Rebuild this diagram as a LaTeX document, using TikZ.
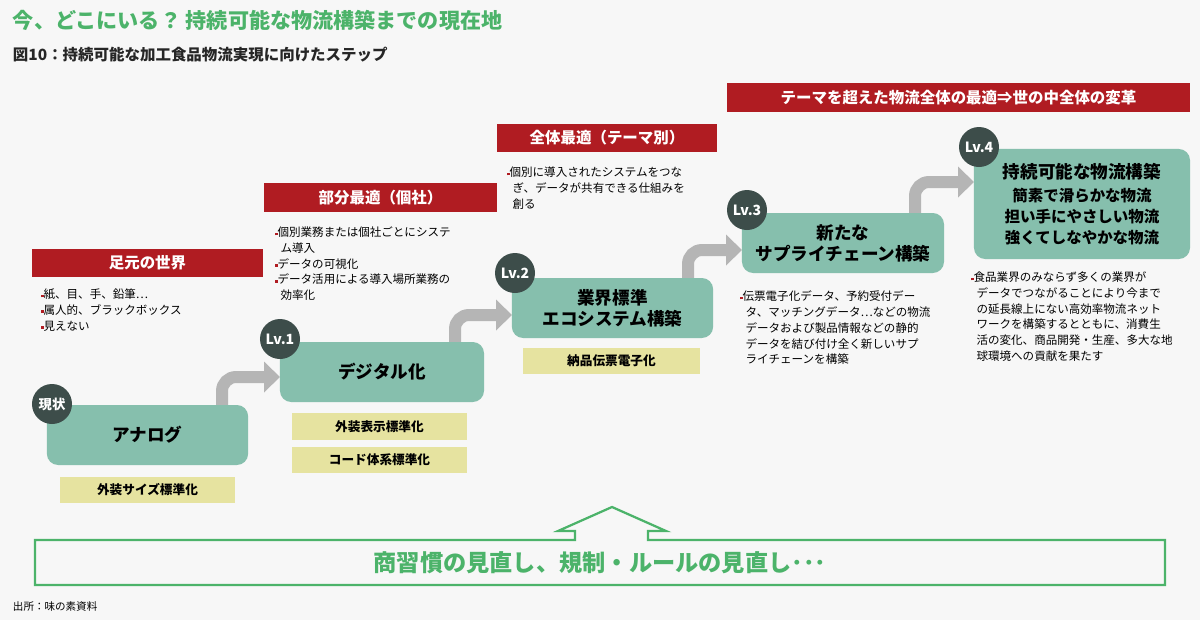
\documentclass[tikz,border=0pt]{standalone}
\usepackage{fontspec}
\setmainfont{Noto Sans CJK JP}
\usetikzlibrary{arrows.meta}
\definecolor{banred}{HTML}{B01C22}
\definecolor{boxgreen}{HTML}{86BFAD}
\definecolor{lvdark}{HTML}{3D4D4A}
\definecolor{stdyellow}{HTML}{E6E3A0}
\definecolor{titlegreen}{HTML}{4CB36A}
\definecolor{arrowgray}{HTML}{B5B5B5}
\tikzset{
  banner/.style={fill=banred, text=white, font=\bfseries\fontsize{11}{13}\selectfont},
  stage/.style={fill=boxgreen, rounded corners=8pt, text=black,
    font=\bfseries\fontsize{12.5}{15}\selectfont, align=center},
  lv/.style={circle, fill=lvdark, text=white, minimum size=1cm, inner sep=0pt,
    font=\bfseries\fontsize{10}{12}\selectfont},
  std/.style={fill=stdyellow, font=\bfseries\fontsize{9}{11}\selectfont},
  note/.style={anchor=north west, align=left, text width=#1, font=\fontsize{8.2}{11.2}\selectfont},
  up/.style={arrowgray, line width=0.3cm, rounded corners=10pt,
    -{Triangle[length=0.4cm, width=0.75cm]}}
}
\newcommand{\rb}{{\color{banred}\scriptsize\rule[0.25ex]{0.5ex}{0.5ex}}}
\newcommand{\subl}{\fontsize{11}{14.5}\selectfont}
\begin{document}
\begin{tikzpicture}[x=0.025cm, y=-0.025cm]
  \fill[black!3] (0,0) rectangle (1200,620);

  % titles
  \node[anchor=west, text=titlegreen, font=\bfseries\fontsize{15}{18}\selectfont] (title) at (8,20) {今、どこにいる？ 持続可能な物流構築までの現在地};
  \node[anchor=west, text=black!85, font=\bfseries\fontsize{11}{13}\selectfont] (sub) at (8,55) {図10：持続可能な加工食品物流実現に向けたステップ};

  % banners
  \node[banner, minimum width=5.78cm, minimum height=0.68cm] (b0) at (147.5,263) {足元の世界};
  \node[banner, minimum width=5.83cm, minimum height=0.72cm] (b1) at (380.5,197.5) {部分最適（個社）};
  \node[banner, minimum width=5.5cm, minimum height=0.7cm] (b2) at (607,138) {全体最適（テーマ別）};
  \node[banner, minimum width=11.58cm, minimum height=0.72cm] (b3) at (958.5,97.5) {テーマを超えた物流全体の最適⇒世の中全体の変革};

  % grey arrows
  \coordinate (g0) at (222,405); \coordinate (h0) at (280,377);
  \coordinate (g1) at (455,342); \coordinate (h1) at (512,315);
  \coordinate (g2) at (688,278); \coordinate (h2) at (742,250);
  \coordinate (g3) at (915,213); \coordinate (h3) at (974,182);
  \foreach \i in {0,1,2,3}
    \draw[up] (g\i) |- (h\i);

  % stages
  \node[stage, minimum width=5.03cm, minimum height=1.5cm] (s0) at (147.5,435) {アナログ};
  \node[stage, minimum width=5.1cm, minimum height=1.5cm] (s1) at (382,372) {デジタル化};
  \node[stage, minimum width=5.03cm, minimum height=1.5cm] (s2) at (612.5,308) {業界標準\\エコシステム構築};
  \node[stage, minimum width=5.05cm, minimum height=1.5cm] (s3) at (843,243) {新たな\\サプライチェーン構築};
  \node[stage, minimum width=5.4cm, minimum height=2.75cm] (s4) at (1082,204)
    {持続可能な物流構築\\[1pt]\subl 簡素で滑らかな物流\\\subl 担い手にやさしい物流\\\subl 強くてしなやかな物流};

  % level badges
  \node[lv, font=\bfseries\fontsize{9.5}{11}\selectfont] (l0) at (52,404) {現状};
  \node[lv] (l1) at (280,339) {Lv.1};
  \node[lv] (l2) at (515,273) {Lv.2};
  \node[lv] (l3) at (747,210) {Lv.3};
  \node[lv] (l4) at (979,147) {Lv.4};

  % standards
  \node[std, minimum width=4.38cm, minimum height=0.65cm] (y0) at (147.5,490) {外装サイズ標準化};
  \node[std, minimum width=4.38cm, minimum height=0.67cm] (y1) at (379.5,426.5) {外装表示標準化};
  \node[std, minimum width=4.38cm, minimum height=0.65cm] (y2) at (379.5,460) {コード体系標準化};
  \node[std, minimum width=4.43cm, minimum height=0.65cm] (y3) at (611.5,361) {納品伝票電子化};

  % notes
  \node[note=5.5cm] (n0) at (36,284) {\rb 紙、目、手、鉛筆…\\\rb 属人的、ブラックボックス\\\rb 見えない};
  \node[note=5.6cm] (n1) at (270,222) {\rb 個別業務または個社ごとにシステ\\\hspace*{0.9ex}ム導入\\\rb データの可視化\\\rb データ活用による導入場所業務の\\\hspace*{0.9ex}効率化};
  \node[note=5.4cm] (n2) at (502,162) {\rb 個別に導入されたシステムをつな\\\hspace*{0.9ex}ぎ、データが共有できる仕組みを\\\hspace*{0.9ex}創る};
  \node[note=5.3cm] (n3) at (735,286) {\rb 伝票電子化データ、予約受付デー\\\hspace*{0.9ex}タ、マッチングデータ…などの物流\\\hspace*{0.9ex}データおよび製品情報などの静的\\\hspace*{0.9ex}データを結び付け全く新しいサプ\\\hspace*{0.9ex}ライチェーンを構築};
  \node[note=5.6cm] (n4) at (966,267) {\rb 食品業界のみならず多くの業界が\\\hspace*{0.9ex}データでつながることにより今まで\\\hspace*{0.9ex}の延長線上にない高効率物流ネット\\\hspace*{0.9ex}ワークを構築するとともに、消費生\\\hspace*{0.9ex}活の変化、商品開発・生産、多大な地\\\hspace*{0.9ex}球環境への貢献を果たす};

  % bottom frame with arrow
  \draw[titlegreen, line width=1.6pt] (575,540) -- (575,531) -- (558,531) -- (612,507)
    -- (666,531) -- (648,531) -- (648,540) -- (1165,540) -- (1165,585) -- (35,585)
    -- (35,540) -- cycle;
  \node[text=titlegreen, font=\bfseries\fontsize{16.5}{19}\selectfont] (base) at (600,563) {商習慣の見直し、規制・ルールの見直し･･･};

  \node[anchor=west, font=\fontsize{7.5}{9}\selectfont] (src) at (8,606) {出所：味の素資料};
\end{tikzpicture}
\end{document}
